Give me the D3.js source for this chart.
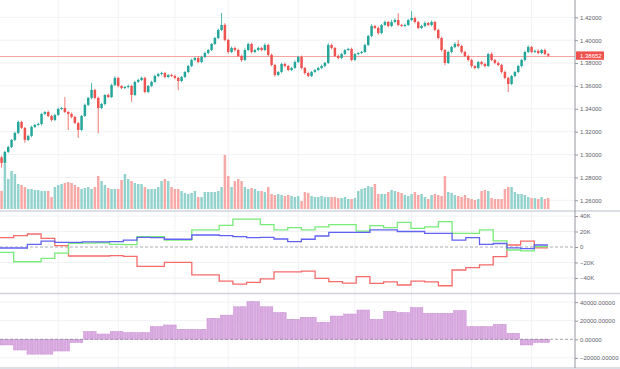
<!DOCTYPE html>
<html>
<head>
<meta charset="utf-8">
<script src="https://cdn.jsdelivr.net/npm/d3@7"></script>
<style>
body { margin: 0; background: #fff; }
svg { display: block; }
text { font-family: "Liberation Sans", Arial, sans-serif; }
</style>
</head>
<body>
<div id="chart"></div>
<script>
// daily closes (open of each candle = previous close)
var closes = [
    1.2927, 1.3023, 1.3066, 1.3128, 1.3189, 1.3285, 1.3233, 1.3128, 1.3163, 1.3241,
    1.3259, 1.3267, 1.3355, 1.3372, 1.3337, 1.3302, 1.3346, 1.3399, 1.3407, 1.3372,
    1.3355, 1.3329, 1.3276, 1.3215, 1.3337, 1.3434, 1.3495, 1.3565, 1.3495, 1.3407,
    1.3442, 1.3521, 1.3503, 1.3608, 1.3670, 1.3600, 1.3582, 1.3591, 1.3600, 1.3521,
    1.3635, 1.3652, 1.3670, 1.3547, 1.3600, 1.3635, 1.3687, 1.3704, 1.3713, 1.3678,
    1.3696, 1.3687, 1.3670, 1.3643, 1.3678, 1.3722, 1.3774, 1.3827, 1.3844, 1.3809,
    1.3853, 1.3888, 1.3914, 1.3967, 1.4019, 1.4089, 1.4133, 1.4002, 1.3897, 1.3932,
    1.3914, 1.3862, 1.3827, 1.3914, 1.3967, 1.3897, 1.3914, 1.3932, 1.3914, 1.3958,
    1.3871, 1.3783, 1.3696, 1.3722, 1.3792, 1.3774, 1.3739, 1.3757, 1.3809, 1.3853,
    1.3757, 1.3713, 1.3687, 1.3722, 1.3739, 1.3757, 1.3774, 1.3801, 1.3958, 1.3932,
    1.3862, 1.3844, 1.3879, 1.3914, 1.3923, 1.3827, 1.3879, 1.3888, 1.3897, 1.3958,
    1.4037, 1.4124, 1.4107, 1.4063, 1.4133, 1.4159, 1.4124, 1.4159, 1.4176, 1.4133,
    1.4124, 1.4133, 1.4176, 1.4194, 1.4159, 1.4107, 1.4124, 1.4150, 1.4133, 1.4159,
    1.4089, 1.4019, 1.3914, 1.3801, 1.3897, 1.3940, 1.3967, 1.3949, 1.3897, 1.3862,
    1.3827, 1.3774, 1.3757, 1.3809, 1.3792, 1.3774, 1.3879, 1.3827, 1.3801, 1.3783,
    1.3722, 1.3670, 1.3617, 1.3687, 1.3722, 1.3774, 1.3827, 1.3897, 1.3940, 1.3897,
    1.3906, 1.3888, 1.3914, 1.3879, 1.38652
];
var firstOpen = 1.2975;

// wick lengths in pips above / below the body
var upWick = [
    15, 10, 12, 8, 10, 12, 10, 8, 10, 12,
    10, 12, 10, 8, 12, 10, 10, 12, 8, 95,
    10, 12, 10, 8, 10, 12, 10, 60, 10, 12,
    10, 8, 12, 10, 15, 10, 8, 10, 12, 10,
    10, 12, 12, 10, 8, 10, 12, 10, 12, 10,
    8, 10, 12, 10, 10, 8, 10, 12, 10, 15,
    10, 12, 10, 8, 10, 12, 105, 15, 10, 12,
    10, 12, 10, 15, 12, 10, 10, 12, 10, 15,
    10, 12, 10, 8, 10, 12, 10, 10, 15, 10,
    12, 10, 10, 8, 10, 10, 12, 10, 15, 10,
    10, 12, 10, 8, 10, 12, 10, 8, 10, 12,
    10, 15, 10, 12, 10, 12, 10, 20, 15, 60,
    10, 12, 10, 60, 12, 10, 12, 15, 10, 12,
    10, 12, 10, 8, 12, 10, 15, 35, 10, 12,
    10, 12, 8, 10, 10, 12, 10, 15, 10, 12,
    10, 12, 10, 8, 10, 12, 10, 12, 15, 10,
    12, 15, 10, 12, 10
];
var downWick = [
    40, 12, 10, 10, 12, 10, 8, 25, 10, 12,
    10, 8, 12, 10, 10, 12, 10, 8, 10, 10,
    140, 12, 10, 70, 10, 8, 10, 12, 12, 220,
    10, 12, 10, 8, 10, 12, 10, 10, 12, 60,
    10, 8, 10, 12, 10, 10, 8, 10, 10, 12,
    10, 10, 12, 80, 10, 8, 10, 10, 12, 10,
    10, 8, 10, 10, 8, 10, 10, 12, 15, 10,
    12, 10, 15, 10, 10, 12, 10, 10, 12, 10,
    10, 12, 15, 10, 10, 12, 10, 10, 8, 10,
    12, 15, 10, 10, 8, 10, 10, 12, 10, 12,
    10, 12, 10, 10, 8, 12, 10, 10, 8, 10,
    10, 12, 10, 15, 10, 8, 12, 10, 10, 12,
    10, 12, 10, 8, 12, 10, 10, 12, 10, 12,
    10, 12, 15, 20, 10, 12, 10, 10, 12, 10,
    12, 15, 10, 10, 12, 12, 10, 10, 12, 10,
    15, 12, 70, 10, 12, 10, 10, 12, 10, 10,
    10, 12, 10, 10, 12
];

// daily volume (thousands)
var volumes = [
    18, 45, 30, 38, 35, 25, 24, 22, 20, 20,
    19, 19, 18, 18, 18, 12, 22, 24, 25, 26,
    27, 26, 24, 22, 20, 21, 22, 20, 22, 33,
    28, 24, 21, 20, 20, 20, 29, 35, 30, 28,
    26, 25, 25, 22, 20, 20, 20, 22, 28, 30,
    28, 22, 20, 20, 18, 16, 15, 16, 18, 12,
    12, 17, 17, 17, 17, 18, 22, 54, 33, 22,
    28, 30, 28, 22, 20, 21, 20, 18, 18, 17,
    22, 15, 14, 15, 14, 13, 14, 13, 12, 13,
    8, 17, 16, 13, 12, 12, 13, 12, 12, 12,
    12, 11, 11, 12, 10, 10, 11, 18, 20, 21,
    23, 22, 25, 15, 15, 15, 17, 19, 18, 17,
    16, 14, 13, 15, 17, 14, 15, 12, 10, 14,
    15, 14, 13, 33, 17, 16, 14, 13, 12, 14,
    11, 10, 9, 10, 18, 19, 18, 11, 10, 10,
    10, 20, 22, 22, 17, 15, 15, 14, 12, 11,
    11, 10, 12, 10, 11
];

// weekly positioning lines (thousands of contracts)
var redLine = [12, 14.6, 16.8, 11.2, 1.7, -11.6, -11.6, -11.6, -11, -12, -25, -25, -19.8, -19.8, -36, -36, -44, -48, -45.6, -41,
    -32, -32, -31, -40.4, -44.7, -46.6, -38.3, -47, -45, -49, -44, -45, -50, -29.7, -26.6, -23, -12.5, 2.6, 7.7, -1];
var greenLine = [-7, -19, -19, -14.6, -8, 4.7, 5, 5.5, 3.5, 3, 13.3, 13.3, 9, 9, 22, 22, 28, 36, 36, 29,
    22, 25, 22, 26, 29, 29, 20.6, 27.5, 25, 31.8, 24, 26, 32.7, 17.6, 17.6, 22, 8, -3.9, -5, 0.4];
var blueLine = [-1.3, -1.3, 3.5, 7.7, 6, 6, 6.5, 6.5, 7, 9, 12.5, 12, 10, 10, 15.5, 15.5, 14.6, 13.3, 12, 12.5,
    10.3, 6.9, 10, 14.2, 19, 19, 19, 22, 22, 20, 20, 17.6, 17.6, 9, 12, 3.5, 4.5, -1, -2, 2.6];

// weekly net position histogram
var netHist = [-6100, -11500, -16000, -16000, -12600, -3600, 8200, 5700, 8200, 7100, 7100, 13500, 15400, 10700, 10700,
    22600, 26000, 35000, 40400, 35000, 28600, 21500, 23600, 18300, 25000, 27200, 31500, 21500, 30000, 28600,
    34000, 28000, 28000, 30800, 13500, 13500, 16000, 6400, -6100, -3600];

var priceTicks = [1.26, 1.28, 1.30, 1.32, 1.34, 1.36, 1.38, 1.40, 1.42];
var cotTicks = [-40000, -20000, 0, 20000, 40000];
var netTicks = [-20000, 0, 20000, 40000];
var monthStarts = [17, 35, 52, 68, 89, 106, 123, 141, 159];
var lastPrice = 1.38652;

let svgWidth = 620;
let svgHeight = 369;
let axisX = 575;

let upColor = "#26a69a";
let downColor = "#ef5350";
let gridColor = "#f1f2f5";
let labelColor = "#5d606b";

let xScale = d3.scaleBand()
    .domain(d3.range(closes.length))
    .range([0.3, 549.5])
    .paddingInner(0.25);

let weekScale = d3.scaleLinear()
    .domain([0, redLine.length])
    .range([0, 548]);

let yPrice = d3.scaleLinear().domain([1.26, 1.42]).range([200.3, 17.3]);
let yVol = d3.scaleLinear().domain([0, 60]).range([209, 149]);
let yCot = d3.scaleLinear().domain([-20000, 20000]).range([262.5, 231.5]);
let yNet = d3.scaleLinear().domain([-20000, 20000]).range([357.9, 320.7]);

let candles = closes.map((c, i) => {
    let o = i === 0 ? firstOpen : closes[i - 1];
    return {
        i: i,
        open: o,
        close: c,
        high: Math.max(o, c) + upWick[i] / 10000,
        low: Math.min(o, c) - downWick[i] / 10000,
        vol: volumes[i]
    };
});

function cx(i) {
    return xScale(i) + xScale.bandwidth() / 2;
}

let svg = d3.select("#chart")
    .append("svg")
    .attr("width", svgWidth)
    .attr("height", svgHeight);

svg.append("rect").attr("width", svgWidth).attr("height", svgHeight).attr("fill", "#fff");

let defs = svg.append("defs");
[["clipMain", 0, 211], ["clipCot", 212, 81], ["clipNet", 294, 74]].forEach(c => {
    defs.append("clipPath").attr("id", c[0])
        .append("rect").attr("x", 0).attr("y", c[1]).attr("width", axisX).attr("height", c[2]);
});

// grid
let grid = svg.append("g");
grid.selectAll(".vgrid")
    .data(monthStarts)
    .enter()
    .append("line")
    .attr("x1", d => cx(d)).attr("x2", d => cx(d))
    .attr("y1", 0).attr("y2", 368)
    .attr("stroke", gridColor);
grid.selectAll(".pgrid")
    .data(priceTicks)
    .enter()
    .append("line")
    .attr("x1", 0).attr("x2", axisX)
    .attr("y1", d => yPrice(d)).attr("y2", d => yPrice(d))
    .attr("stroke", gridColor);
grid.selectAll(".cgrid")
    .data(cotTicks.filter(d => d !== 0))
    .enter()
    .append("line")
    .attr("x1", 0).attr("x2", axisX)
    .attr("y1", d => yCot(d)).attr("y2", d => yCot(d))
    .attr("stroke", gridColor);
grid.selectAll(".ngrid")
    .data(netTicks.filter(d => d !== 0))
    .enter()
    .append("line")
    .attr("x1", 0).attr("x2", axisX)
    .attr("y1", d => yNet(d)).attr("y2", d => yNet(d))
    .attr("stroke", gridColor);

// main pane
let main = svg.append("g").attr("clip-path", "url(#clipMain)");

main.selectAll(".vol")
    .data(candles)
    .enter()
    .append("rect")
    .attr("x", d => xScale(d.i))
    .attr("y", d => yVol(d.vol))
    .attr("width", xScale.bandwidth())
    .attr("height", d => yVol(0) - yVol(d.vol))
    .attr("fill", d => d.close >= d.open ? "#94d3cd" : "#f7a9a7");

main.append("line")
    .attr("x1", 0).attr("x2", axisX)
    .attr("y1", Math.round(yPrice(lastPrice)) + 0.5).attr("y2", Math.round(yPrice(lastPrice)) + 0.5)
    .attr("stroke", "#f6a3a2")
    .attr("stroke-width", 1);

main.selectAll(".wick")
    .data(candles)
    .enter()
    .append("line")
    .attr("x1", d => cx(d.i)).attr("x2", d => cx(d.i))
    .attr("y1", d => yPrice(d.high)).attr("y2", d => yPrice(d.low))
    .attr("stroke", d => d.close >= d.open ? upColor : downColor)
    .attr("stroke-width", 0.8);

main.selectAll(".body")
    .data(candles)
    .enter()
    .append("rect")
    .attr("x", d => xScale(d.i))
    .attr("y", d => yPrice(Math.max(d.open, d.close)))
    .attr("width", xScale.bandwidth())
    .attr("height", d => Math.max(1, Math.abs(yPrice(d.open) - yPrice(d.close))))
    .attr("fill", d => d.close >= d.open ? upColor : downColor);

// positioning pane
let cot = svg.append("g").attr("clip-path", "url(#clipCot)");

cot.append("line")
    .attr("x1", 0).attr("x2", axisX)
    .attr("y1", yCot(0)).attr("y2", yCot(0))
    .attr("stroke", "#9598a1")
    .attr("stroke-dasharray", "3,2")
    .attr("stroke-width", 0.8);

let stepLine = d3.line()
    .x(d => weekScale(d[0]))
    .y(d => yCot(d[1] * 1000))
    .curve(d3.curveStepAfter);

[[redLine, "#f66b6b"], [greenLine, "#78ec78"], [blueLine, "#6262f2"]].forEach(s => {
    let pts = s[0].map((v, i) => [i, v]);
    pts.push([s[0].length, s[0][s[0].length - 1]]);
    cot.append("path")
        .attr("d", stepLine(pts))
        .attr("fill", "none")
        .attr("stroke", s[1])
        .attr("stroke-width", 1.3);
});

// net histogram pane
let net = svg.append("g").attr("clip-path", "url(#clipNet)");

function weekOf(i) {
    return Math.min(netHist.length - 1, Math.floor(weekScale.invert(cx(i))));
}

net.selectAll(".hist")
    .data(candles)
    .enter()
    .append("rect")
    .attr("x", d => xScale(d.i))
    .attr("y", d => yNet(Math.max(0, netHist[weekOf(d.i)])))
    .attr("width", xScale.bandwidth())
    .attr("height", d => Math.abs(yNet(netHist[weekOf(d.i)]) - yNet(0)))
    .attr("fill", "#dcaae2")
    .attr("stroke", "#c48ccf")
    .attr("stroke-width", 0.5);

net.append("line")
    .attr("x1", 0).attr("x2", axisX)
    .attr("y1", yNet(0)).attr("y2", yNet(0))
    .attr("stroke", "#8a8d96")
    .attr("stroke-dasharray", "3,2")
    .attr("stroke-width", 0.8);

// pane separators
[211, 293.5, 368].forEach(y => {
    svg.append("line")
        .attr("x1", 0).attr("x2", svgWidth)
        .attr("y1", y).attr("y2", y)
        .attr("stroke", "#d1d4dc")
        .attr("stroke-width", 1.5);
});

// right axes
function styleAxis(g) {
    g.select(".domain").remove();
    g.selectAll(".tick line").attr("stroke", "#9598a1");
    g.selectAll(".tick text")
        .attr("fill", labelColor)
        .attr("font-size", "6px");
}

svg.append("g")
    .attr("transform", "translate(" + axisX + ",0)")
    .call(d3.axisRight(yPrice).tickValues(priceTicks).tickSize(3).tickPadding(2).tickFormat(d3.format(".5f")))
    .call(styleAxis);

svg.append("g")
    .attr("transform", "translate(" + axisX + ",0)")
    .call(d3.axisRight(yCot).tickValues(cotTicks).tickSize(3).tickPadding(2)
        .tickFormat(d => d === 0 ? "0" : d3.format("d")(d / 1000) + "K"))
    .call(styleAxis);

svg.append("g")
    .attr("transform", "translate(" + axisX + ",0)")
    .call(d3.axisRight(yNet).tickValues(netTicks).tickSize(3).tickPadding(2).tickFormat(d3.format(".5f")))
    .call(styleAxis);

svg.append("line")
    .attr("x1", axisX).attr("x2", axisX)
    .attr("y1", 0).attr("y2", 368)
    .attr("stroke", "#9598a1")
    .attr("stroke-width", 1);

// last price label
let lp = svg.append("g").attr("transform", "translate(" + (axisX + 1) + "," + yPrice(lastPrice) + ")");
lp.append("rect")
    .attr("x", 0).attr("y", -4.2)
    .attr("width", 28).attr("height", 8.4)
    .attr("fill", downColor);
lp.append("text")
    .attr("x", 4).attr("y", 2.1)
    .attr("font-size", "6px")
    .attr("fill", "#fff")
    .text(d3.format(".5f")(lastPrice));
</script>
</body>
</html>
